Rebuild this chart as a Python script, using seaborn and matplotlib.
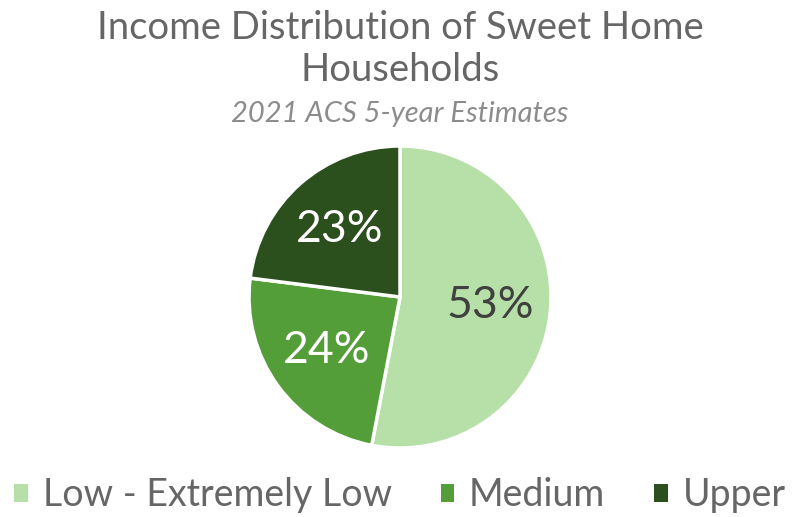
import matplotlib
matplotlib.use("Agg")
import matplotlib.pyplot as plt
from matplotlib.patches import Patch
import seaborn as sns

# data
categories = ["Low - Extremely Low", "Medium", "Upper"]
shares = [53, 24, 23]
colors = ["#B7E0A8", "#549E39", "#2C4F1E"]

sns.set_theme(style="white")
plt.rcParams["font.family"] = ["Lato", "DejaVu Sans"]

fig = plt.figure(figsize=(8, 5.17), dpi=100)
ax = fig.add_axes([249 / 800, 69 / 517, 302 / 800, 302 / 517])

wedges, texts, autotexts = ax.pie(
    shares,
    colors=colors,
    startangle=90,
    counterclock=False,
    autopct="%1.0f%%",
    pctdistance=0.6,
    wedgeprops=dict(edgecolor="white", linewidth=2.5),
    textprops=dict(fontsize=32),
)
autotexts[0].set_color("#404040")
for t in autotexts[1:]:
    t.set_color("white")
ax.set_aspect("equal")
ax.set_xlim(-1.0, 1.0)
ax.set_ylim(-1.0, 1.0)
ax.axis("off")

fig.text(0.5, 1 - 28 / 517, "Income Distribution of Sweet Home", ha="center", va="center",
         fontsize=27.5, color="#666666")
fig.text(0.5, 1 - 70 / 517, "Households", ha="center", va="center",
         fontsize=27.5, color="#666666")
fig.text(0.5, 1 - 114 / 517, "2021 ACS 5-year Estimates", ha="center", va="center",
         fontsize=21, color="#8C8C8C", style="italic")

handles = [Patch(facecolor=c, edgecolor="none") for c in colors]
fig.legend(handles, categories, loc="center", bbox_to_anchor=(0.5, 1 - 495 / 517), ncol=3,
           frameon=False, fontsize=27, labelcolor="#666666", handlelength=0.36, handleheight=0.36,
           handletextpad=0.4, columnspacing=1.3)

fig.savefig("out.png", dpi=100)
